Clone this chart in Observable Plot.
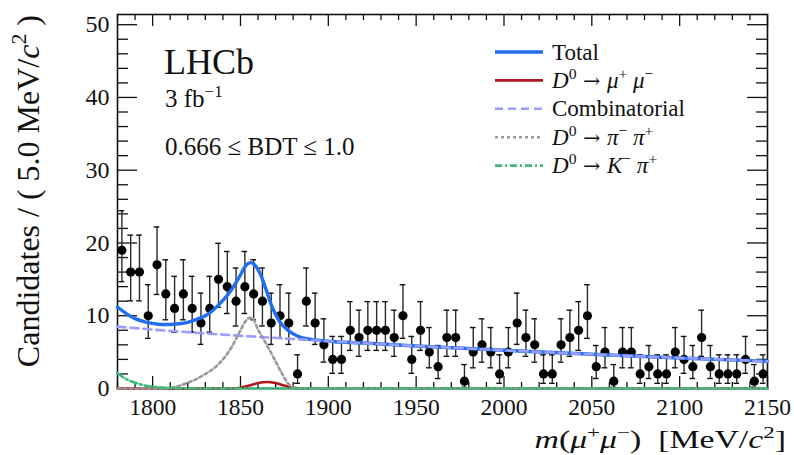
<!DOCTYPE html>
<html><head><meta charset="utf-8">
<script src="https://cdn.jsdelivr.net/npm/d3@7"></script>
<script src="https://cdn.jsdelivr.net/npm/@observablehq/plot@0.6"></script>
<style>body{margin:0;background:#fff}#chart{width:794px;height:455px;position:relative}</style>
</head><body><div id="chart"></div>
<script>
// ---- data ----
const binCenters = [1782.5,1787.5,1792.5,1797.5,1802.5,1807.5,1812.5,1817.5,1822.5,1827.5,1832.5,1837.5,1842.5,1847.5,1852.5,1857.5,1862.5,1867.5,1872.5,1877.5,1882.5,1887.5,1892.5,1897.5,
1902.5,1907.5,1912.5,1917.5,1922.5,1927.5,1932.5,1937.5,1942.5,1947.5,1952.5,1957.5,1962.5,1967.5,1972.5,1977.5,1982.5,1987.5,1992.5,1997.5,
2002.5,2007.5,2012.5,2017.5,2022.5,2027.5,2032.5,2037.5,2042.5,2047.5,2052.5,2057.5,2062.5,2067.5,2072.5,2077.5,2082.5,2087.5,2092.5,2097.5,
2102.5,2107.5,2112.5,2117.5,2122.5,2127.5,2132.5,2137.5,2142.5,2147.5];
const counts = [19,16,16,10,17,13,11,13,11,9,11,15,14,12,14,13,12,9,10,9,2,12,9,6,
4,4,8,7,8,8,8,7,10,4,8,5,3,7,7,1,5,6,5,2,
5,9,7,6,2,2,6,7,8,10,3,5,1,5,5,2,3,2,2,5,
4,3,7,3,2,2,2,4,1,2];

const totalMass = [1780,1785,1790,1795,1800,1805,1810,1815,1820,1825,1830,1835,1840,1845,1850,1853,1856,1858,1861,1864,1868,1872,1877,1883,1890,1900,1920,1950,2000,2050,2100,2150];
const totalVal  = [11.2,10.3,9.6,9.2,8.95,8.8,8.8,8.9,9.1,9.5,10.0,10.9,12.1,13.6,15.6,16.9,17.3,17.0,15.9,14.0,11.2,9.3,8.0,7.15,6.75,6.5,6.25,5.85,5.25,4.7,4.2,3.75];

const combMass = [1780,1800,1820,1840,1860,1880,1900,1950,2000,2050,2100,2150];
const combVal  = [8.5,8.1,7.75,7.4,7.1,6.8,6.5,5.85,5.25,4.7,4.2,3.75];

const pipiMass = [1780,1805,1810,1815,1820,1825,1830,1835,1840,1845,1850,1853,1855,1857,1860,1865,1870,1874,1877,1880,1883,2150];
const pipiVal  = [0,0,0.1,0.35,0.8,1.3,2.0,2.8,4.0,5.7,8.0,9.3,9.7,9.6,8.1,6.0,3.7,1.9,0.7,0.15,0,0];

const mumuMass = [1780,1845,1850,1855,1860,1865,1870,1875,1880,1885,2150];
const mumuVal  = [0,0,0.1,0.4,0.75,0.9,0.75,0.4,0.12,0,0];

const kpiMass = [1780,1785,1790,1795,1800,1810,1820,1830,2150];
const kpiVal  = [2.1,1.3,0.8,0.45,0.25,0.08,0.02,0,0];

const xTickLabels = [1800,1850,1900,1950,2000,2050,2100,2150];
const yTickLabels = [0,10,20,30,40,50];
const xDomain = [1780, 2150];
const yDomain = [0, 51.4];

// ---- layout ----
const W = 794, H = 455, mL = 117, mR = 27, mT = 14, mB = 67;
const plotW = W - mL - mR, plotH = H - mT - mB;
const FONT = "'Liberation Serif','Times New Roman',serif";

// Poisson (Garwood, 68%) intervals, Wilson-Hilferty form
const pLo = n => n <= 0 ? 0 : n * Math.pow(1 - 1/(9*n) - 1/(3*Math.sqrt(n)), 3);
const pHi = n => (n+1) * Math.pow(1 - 1/(9*(n+1)) + 1/(3*Math.sqrt(n+1)), 3);

const pts = binCenters.map((m, i) => ({m, n: counts[i], lo: pLo(counts[i]), hi: pHi(counts[i])}));
const series = (ms, vs) => ms.map((m, i) => ({m, v: vs[i]}));
const total = series(totalMass, totalVal), comb = series(combMass, combVal),
      pipi = series(pipiMass, pipiVal), mumu = series(mumuMass, mumuVal), kpi = series(kpiMass, kpiVal);

const xMinor = d3.range(xDomain[0], xDomain[1] + 1, 10).filter(v => v % 50 !== 0);
const yMinor = d3.range(0, 51, 2).filter(v => v % 10 !== 0);

const C = {
  total: {stroke: "#1f6ff0", strokeWidth: 3.4},
  mumu:  {stroke: "#b3161b", strokeWidth: 2.6},
  comb:  {stroke: "#9d9dff", strokeWidth: 2.6, strokeDasharray: "8 5"},
  pipi:  {stroke: "#9a9a9a", strokeWidth: 2.6, strokeDasharray: "3 3"},
  kpi:   {stroke: "#3dbb7a", strokeWidth: 2.6, strokeDasharray: "7 3 2 3"}
};
const TK = {stroke: "#111", strokeWidth: 1.3};

const chart = Plot.plot({
  width: W, height: H, marginLeft: mL, marginRight: mR, marginTop: mT, marginBottom: mB,
  x: {domain: xDomain},
  y: {domain: yDomain},
  style: {fontFamily: FONT, background: "#fff", color: "#111"},
  marks: [
    // ticks (inside, on all four sides)
    Plot.ruleX(xTickLabels, {x: d => d, insetTop: plotH - 12, ...TK}),
    Plot.ruleX(xTickLabels, {x: d => d, insetBottom: plotH - 12, ...TK}),
    Plot.ruleX(xMinor, {x: d => d, insetTop: plotH - 6, ...TK}),
    Plot.ruleX(xMinor, {x: d => d, insetBottom: plotH - 6, ...TK}),
    Plot.ruleY(yTickLabels, {y: d => d, insetRight: plotW - 20, ...TK}),
    Plot.ruleY(yTickLabels, {y: d => d, insetLeft: plotW - 20, ...TK}),
    Plot.ruleY(yMinor, {y: d => d, insetRight: plotW - 11, ...TK}),
    Plot.ruleY(yMinor, {y: d => d, insetLeft: plotW - 11, ...TK}),
    Plot.frame({stroke: "#111", strokeWidth: 1.6}),
    // data
    Plot.ruleX(pts, {x: "m", y1: "lo", y2: "hi", stroke: "#2a2a2a", strokeWidth: 1.4}),
    Plot.ruleY(pts, {y: "hi", x1: d => d.m - 1.6, x2: d => d.m + 1.6, stroke: "#111", strokeWidth: 1.4}),
    Plot.ruleY(pts, {y: "lo", x1: d => d.m - 1.6, x2: d => d.m + 1.6, stroke: "#111", strokeWidth: 1.4}),
    Plot.dot(pts, {x: "m", y: "n", r: 4.6, fill: "#000", stroke: null}),
    // fit curves
    Plot.line(total, {x: "m", y: "v", curve: "monotone-x", ...C.total}),
    Plot.line(mumu, {x: "m", y: "v", curve: "monotone-x", ...C.mumu}),
    Plot.line(comb, {x: "m", y: "v", curve: "monotone-x", ...C.comb}),
    Plot.line(pipi, {x: "m", y: "v", curve: "monotone-x", ...C.pipi}),
    Plot.line(kpi, {x: "m", y: "v", curve: "monotone-x", ...C.kpi}),
    // tick labels
    Plot.axisX(xTickLabels, {tickSize: 0, tickPadding: 10, tickFormat: d => String(d), fontSize: 23.5, fontFamily: FONT, fill: "#111", label: null}),
    Plot.axisY(yTickLabels, {tickSize: 0, tickPadding: 8, tickFormat: d => String(d), fontSize: 24, fontFamily: FONT, fill: "#111", label: null})
  ]
});
document.getElementById("chart").appendChild(chart);

// ---- rich text (titles, annotations, legend) ----
const svg = d3.select(chart);
function rich(parent, segs, size, anchor) {
  const t = parent.append("text").attr("font-size", size).attr("font-family", FONT)
    .attr("fill", "#111").attr("text-anchor", anchor || "start");
  let shift = 0;
  for (const s of segs) {
    const sp = t.append("tspan").text(s.t);
    if (s.i) sp.attr("font-style", "italic");
    if (s.arrow) sp.attr("font-family", "'DejaVu Serif', serif").attr("font-size", size * 0.9);
    const target = s.sup ? -0.4 * size : 0;
    if (target !== shift) { sp.attr("dy", target - shift); shift = target; }
    if (s.sup) sp.attr("font-size", size * 0.68);
  }
  return t;
}

// y-axis title
rich(svg, [{t: "Candidates / ( 5.0 MeV/"}, {t: "c", i: true}, {t: "2", sup: true}, {t: " )"}], 32, "end")
  .attr("transform", "translate(39,15) rotate(-90)");
// x-axis title (slightly widened, as in the reference)
rich(svg, [{t: "m", i: true}, {t: "("}, {t: "μ", i: true}, {t: "+", sup: true}, {t: "μ", i: true}, {t: "−", sup: true},
           {t: ")  [MeV/"}, {t: "c", i: true}, {t: "2", sup: true}, {t: "]"}], 26, "end")
  .attr("transform", "translate(786,448) scale(1.3,1)");

// annotations
rich(svg, [{t: "LHCb"}], 36).attr("x", 164).attr("y", 74);
rich(svg, [{t: "3 fb"}, {t: "−1", sup: true}], 25).attr("x", 165).attr("y", 107);
rich(svg, [{t: "0.666 ≤ BDT ≤ 1.0"}], 25).attr("x", 165).attr("y", 155);

// legend
const arrow = {t: " → ", arrow: true};
const legend = [
  {segs: [{t: "Total"}], st: C.total},
  {segs: [{t: "D", i: true}, {t: "0", sup: true}, arrow, {t: "μ", i: true}, {t: "+", sup: true}, {t: " "}, {t: "μ", i: true}, {t: "−", sup: true}], st: C.mumu},
  {segs: [{t: "Combinatorial"}], st: C.comb},
  {segs: [{t: "D", i: true}, {t: "0", sup: true}, arrow, {t: "π", i: true}, {t: "−", sup: true}, {t: " "}, {t: "π", i: true}, {t: "+", sup: true}], st: C.pipi},
  {segs: [{t: "D", i: true}, {t: "0", sup: true}, arrow, {t: "K", i: true}, {t: "−", sup: true}, {t: " "}, {t: "π", i: true}, {t: "+", sup: true}], st: C.kpi}
];
legend.forEach((e, i) => {
  const y = 52 + i * 28.4;
  svg.append("line").attr("x1", 495).attr("x2", 543).attr("y1", y).attr("y2", y)
    .attr("stroke", e.st.stroke).attr("stroke-width", e.st.strokeWidth)
    .attr("stroke-dasharray", e.st.strokeDasharray || null);
  rich(svg, e.segs, 23).attr("x", 552).attr("y", y + 7.5);
});
</script></body></html>
